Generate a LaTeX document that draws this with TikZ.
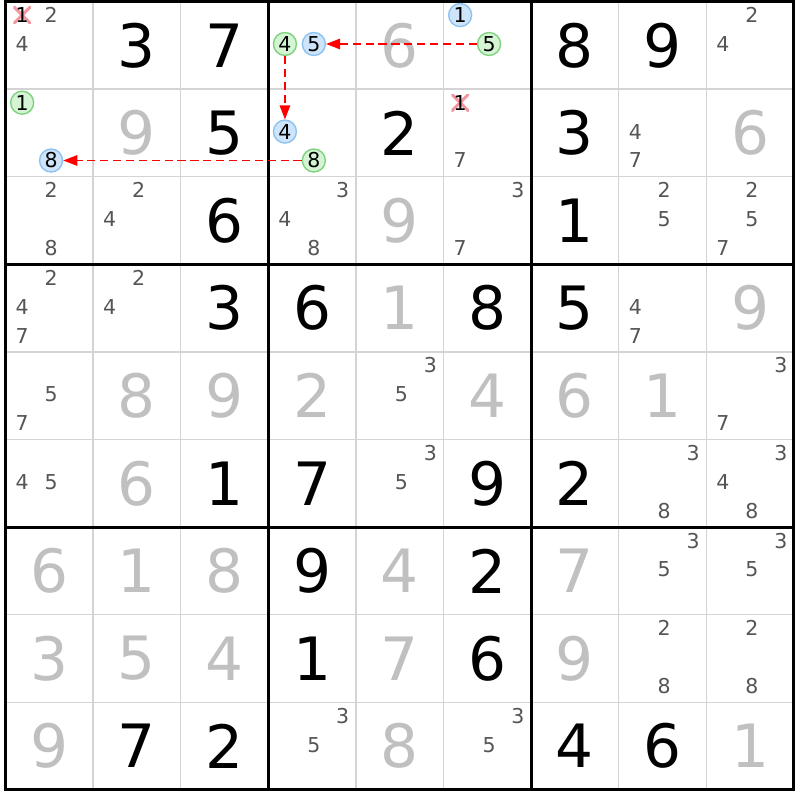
\documentclass[tikz,border=0pt]{standalone}
\usepackage{fontspec}
\setmainfont{DejaVu Sans}
\usepackage{tikz}
\usetikzlibrary{arrows.meta}
\definecolor{solvedgray}{RGB}{192,192,192}
\definecolor{candgray}{RGB}{85,85,85}
\definecolor{thingray}{RGB}{212,212,212}
\definecolor{ongreen}{RGB}{212,244,212}
\definecolor{ongreenline}{RGB}{128,210,128}
\definecolor{offblue}{RGB}{206,228,250}
\definecolor{offblueline}{RGB}{142,194,240}
\definecolor{strikered}{RGB}{242,150,160}

\tikzset{
  given/.style={font=\fontsize{51}{51}\selectfont, text=black, inner sep=0pt},
  solved/.style={given, text=solvedgray},
  cand/.style={font=\fontsize{17.5}{17.5}\selectfont, text=candgray, inner sep=0pt},
  pick/.style={cand, text=black, circle, draw, line width=1.2pt, minimum size=0.69cm},
  onpick/.style={pick, draw=ongreenline, fill=ongreen},
  offpick/.style={pick, draw=offblueline, fill=offblue},
  struck/.style={cand, text=black, minimum size=0.52cm,
    path picture={\draw[strikered, line width=2.6pt]
      (path picture bounding box.south west) -- (path picture bounding box.north east)
      (path picture bounding box.north west) -- (path picture bounding box.south east);}},
  link/.style={red, dash pattern=on 7pt off 4pt, line width=1.2pt, -{Triangle[length=12pt,width=9pt]}},
}

% candidate: [style]{row}{col}{digit}
\newcommand{\cand}[4][cand]{%
  \pgfmathsetmacro{\candx}{#3-1+0.19+0.33*mod(#4-1,3)}%
  \pgfmathsetmacro{\candy}{#2-1+0.155+0.33*int((#4-1)/3)}%
  \node[#1] (n#2#3#4) at (\candx,\candy) {#4};}

\begin{document}
\begin{tikzpicture}[x=2.628cm, y=-2.628cm]

\useasboundingbox[fill=white] (-0.0628, -0.0171) rectangle (9.0696, 9.1153);

% grid
\foreach \i in {1,2,4,5,7,8} {
  \draw[thingray, line width=1.3pt] (\i, 0) -- (\i, 9);
  \draw[thingray, line width=1.3pt] (0, \i) -- (9, \i);
}
\foreach \i in {0,3,6,9} {
  \draw[line width=2.6pt] (\i, 0) -- (\i, 9);
  \draw[line width=2.6pt] (0, \i) -- (9, \i);
}
\draw[line width=2.6pt] (0, 0) rectangle (9, 9);

% row 1
\node[given] (g12) at (1.5, 0.5) {3};
\node[given] (g13) at (2.5, 0.5) {7};
\node[solved] (g15) at (4.5, 0.5) {6};
\node[given] (g17) at (6.5, 0.5) {8};
\node[given] (g18) at (7.5, 0.5) {9};
% row 2
\node[solved] (g22) at (1.5, 1.5) {9};
\node[given] (g23) at (2.5, 1.5) {5};
\node[given] (g25) at (4.5, 1.5) {2};
\node[given] (g27) at (6.5, 1.5) {3};
\node[solved] (g29) at (8.5, 1.5) {6};
% row 3
\node[given] (g33) at (2.5, 2.5) {6};
\node[solved] (g35) at (4.5, 2.5) {9};
\node[given] (g37) at (6.5, 2.5) {1};
% row 4
\node[given] (g43) at (2.5, 3.5) {3};
\node[given] (g44) at (3.5, 3.5) {6};
\node[solved] (g45) at (4.5, 3.5) {1};
\node[given] (g46) at (5.5, 3.5) {8};
\node[given] (g47) at (6.5, 3.5) {5};
\node[solved] (g49) at (8.5, 3.5) {9};
% row 5
\node[solved] (g52) at (1.5, 4.5) {8};
\node[solved] (g53) at (2.5, 4.5) {9};
\node[solved] (g54) at (3.5, 4.5) {2};
\node[solved] (g56) at (5.5, 4.5) {4};
\node[solved] (g57) at (6.5, 4.5) {6};
\node[solved] (g58) at (7.5, 4.5) {1};
% row 6
\node[solved] (g62) at (1.5, 5.5) {6};
\node[given] (g63) at (2.5, 5.5) {1};
\node[given] (g64) at (3.5, 5.5) {7};
\node[given] (g66) at (5.5, 5.5) {9};
\node[given] (g67) at (6.5, 5.5) {2};
% row 7
\node[solved] (g71) at (0.5, 6.5) {6};
\node[solved] (g72) at (1.5, 6.5) {1};
\node[solved] (g73) at (2.5, 6.5) {8};
\node[given] (g74) at (3.5, 6.5) {9};
\node[solved] (g75) at (4.5, 6.5) {4};
\node[given] (g76) at (5.5, 6.5) {2};
\node[solved] (g77) at (6.5, 6.5) {7};
% row 8
\node[solved] (g81) at (0.5, 7.5) {3};
\node[solved] (g82) at (1.5, 7.5) {5};
\node[solved] (g83) at (2.5, 7.5) {4};
\node[given] (g84) at (3.5, 7.5) {1};
\node[solved] (g85) at (4.5, 7.5) {7};
\node[given] (g86) at (5.5, 7.5) {6};
\node[solved] (g87) at (6.5, 7.5) {9};
% row 9
\node[solved] (g91) at (0.5, 8.5) {9};
\node[given] (g92) at (1.5, 8.5) {7};
\node[given] (g93) at (2.5, 8.5) {2};
\node[solved] (g95) at (4.5, 8.5) {8};
\node[given] (g97) at (6.5, 8.5) {4};
\node[given] (g98) at (7.5, 8.5) {6};
\node[solved] (g99) at (8.5, 8.5) {1};

% candidates
\cand[struck]{1}{1}{1} \cand{1}{1}{2} \cand{1}{1}{4}
\cand[onpick]{1}{4}{4} \cand[offpick]{1}{4}{5}
\cand[offpick]{1}{6}{1} \cand[onpick]{1}{6}{5}
\cand{1}{9}{2} \cand{1}{9}{4}
\cand[onpick]{2}{1}{1} \cand[offpick]{2}{1}{8}
\cand[offpick]{2}{4}{4} \cand[onpick]{2}{4}{8}
\cand[struck]{2}{6}{1} \cand{2}{6}{7}
\cand{2}{8}{4} \cand{2}{8}{7}
\cand{3}{1}{2} \cand{3}{1}{8}
\cand{3}{2}{2} \cand{3}{2}{4}
\cand{3}{4}{3} \cand{3}{4}{4} \cand{3}{4}{8}
\cand{3}{6}{3} \cand{3}{6}{7}
\cand{3}{8}{2} \cand{3}{8}{5}
\cand{3}{9}{2} \cand{3}{9}{5} \cand{3}{9}{7}
\cand{4}{1}{2} \cand{4}{1}{4} \cand{4}{1}{7}
\cand{4}{2}{2} \cand{4}{2}{4}
\cand{4}{8}{4} \cand{4}{8}{7}
\cand{5}{1}{5} \cand{5}{1}{7}
\cand{5}{5}{3} \cand{5}{5}{5}
\cand{5}{9}{3} \cand{5}{9}{7}
\cand{6}{1}{4} \cand{6}{1}{5}
\cand{6}{5}{3} \cand{6}{5}{5}
\cand{6}{8}{3} \cand{6}{8}{8}
\cand{6}{9}{3} \cand{6}{9}{4} \cand{6}{9}{8}
\cand{7}{8}{3} \cand{7}{8}{5}
\cand{7}{9}{3} \cand{7}{9}{5}
\cand{8}{8}{2} \cand{8}{8}{8}
\cand{8}{9}{2} \cand{8}{9}{8}
\cand{9}{4}{3} \cand{9}{4}{5}
\cand{9}{6}{3} \cand{9}{6}{5}

% chain
\draw[link] (n165) -- (n145);
\draw[link] (n144) -- (n244);
\draw[link] (n248) -- (n218);

\end{tikzpicture}
\end{document}
